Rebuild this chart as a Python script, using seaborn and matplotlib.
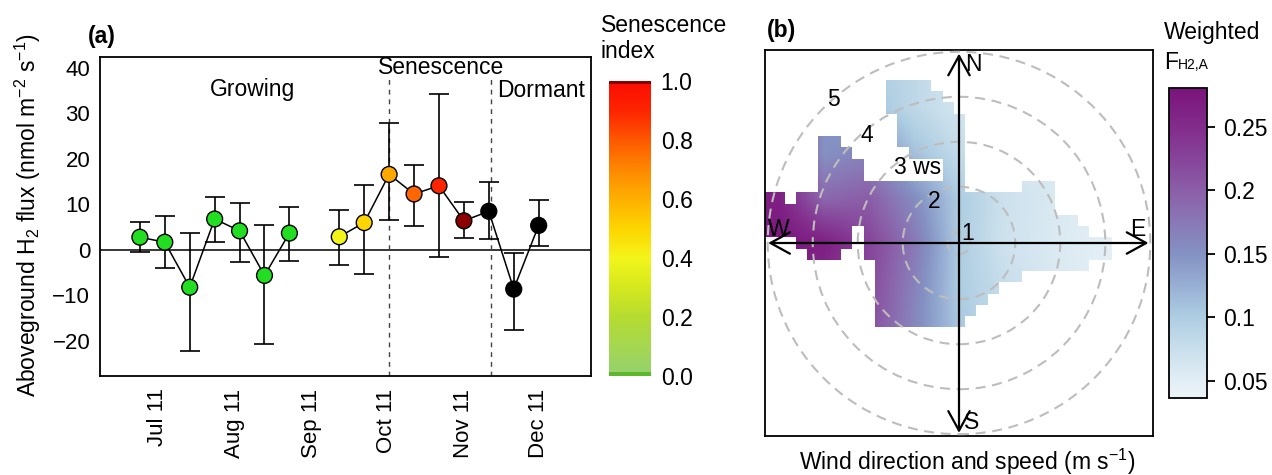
import numpy as np
import pandas as pd
import matplotlib
matplotlib.use("Agg")
import matplotlib.pyplot as plt
from matplotlib.colors import LinearSegmentedColormap, Normalize
from matplotlib.cm import ScalarMappable
from matplotlib.patches import Circle, FancyArrowPatch
import seaborn as sns

# ---------------- panel (a): aboveground H2 flux over the season ----------------
dates = ["2011-06-24", "2011-07-04", "2011-07-14", "2011-07-24", "2011-08-03",
         "2011-08-13", "2011-08-23", "2011-09-12", "2011-09-22", "2011-10-02",
         "2011-10-12", "2011-10-22", "2011-11-01", "2011-11-11", "2011-11-21",
         "2011-12-01"]
flux = [2.8, 1.7, -8.2, 6.8, 4.2, -5.6, 3.7, 2.9, 6.0, 16.6, 12.3, 14.1, 6.4, 8.5, -8.6, 5.4]
flux_hi = [6.1, 7.5, 3.7, 11.6, 10.4, 5.5, 9.4, 8.7, 14.2, 27.8, 18.6, 34.3, 10.5, 15.0, -0.7, 10.9]
flux_lo = [-0.5, -3.9, -22.2, 1.7, -2.7, -20.7, -2.4, -3.3, -5.3, 6.6, 5.3, -1.5, 2.6, 2.4, -17.6, 0.9]
phase = ["growing"] * 7 + ["senescence"] * 6 + ["dormant"] * 3
senescence_index = [0.0] * 7 + [0.4, 0.5, 0.62, 0.77, 0.9, 1.0] + [np.nan] * 3
segment = [0] * 7 + [1] * 9            # no sample between the two runs
phase_bounds = ["2011-10-02", "2011-11-12"]
phase_names = ["Growing", "Senescence", "Dormant"]
month_ticks = ["2011-07-01", "2011-08-01", "2011-09-01", "2011-10-01", "2011-11-01", "2011-12-01"]
month_labels = ["Jul 11", "Aug 11", "Sep 11", "Oct 11", "Nov 11", "Dec 11"]
sen_ticks = [0.0, 0.2, 0.4, 0.6, 0.8, 1.0]

# ---------------- panel (b): weighted flux by wind direction and speed ----------------
ring_speeds = [1, 2, 3, 4, 5]
ring_offset = 0.75
# weighted F_H2,A on a 1 m/s node grid, rows north -> south, columns west -> east
weighted_flux = [
    [0.260, 0.150, 0.100, 0.085, 0.065, 0.060, 0.055, 0.050, 0.045],
    [0.260, 0.150, 0.110, 0.085, 0.065, 0.060, 0.055, 0.050, 0.045],
    [0.260, 0.150, 0.165, 0.110, 0.080, 0.065, 0.055, 0.050, 0.045],
    [0.265, 0.190, 0.200, 0.155, 0.100, 0.072, 0.060, 0.050, 0.045],
    [0.275, 0.265, 0.225, 0.175, 0.100, 0.070, 0.058, 0.050, 0.045],
    [0.270, 0.250, 0.220, 0.165, 0.100, 0.078, 0.060, 0.050, 0.045],
    [0.270, 0.240, 0.215, 0.160, 0.105, 0.080, 0.060, 0.050, 0.045],
    [0.270, 0.240, 0.215, 0.160, 0.105, 0.080, 0.060, 0.050, 0.045],
    [0.270, 0.240, 0.215, 0.160, 0.105, 0.080, 0.060, 0.050, 0.045],
]
# bins that hold enough data (0.25 m/s cells, north -> south, west -> east)
coverage = [
    "",
    "",
    "",
    "...........####",
    "...........#####",
    "...........######",
    "............######",
    "............######",
    ".....##.....######",
    ".....###.....#####",
    ".....####.......##",
    ".....####.......##",
    ".....#############.....###",
    "##.#######################",
    "##########################",
    "############################",
    "########.####################",
    "...#####.######################",
    "....###..######################",
    "..........###################",
    "..........#############",
    "..........###########",
    "..........##########",
    "..........#########",
    "..........########",
    "", "", "", "", "", "", "", "", "", "",
]
flux_ticks = [0.05, 0.10, 0.15, 0.20, 0.25]
flux_tick_labels = ["0.05", "0.1", "0.15", "0.2", "0.25"]
flux_range = (0.0366, 0.2804)

# ---------------- style ----------------
sns.set_theme(style="white")
plt.rcParams["font.family"] = ["Liberation Sans", "DejaVu Sans"]
plt.rcParams["mathtext.fontset"] = "custom"
plt.rcParams["mathtext.rm"] = "Liberation Sans"
plt.rcParams["mathtext.it"] = "Liberation Sans:italic"
plt.rcParams["mathtext.bf"] = "Liberation Sans:bold"
plt.rcParams["axes.edgecolor"] = "black"
plt.rcParams["axes.linewidth"] = 1.3
plt.rcParams["text.color"] = "black"
plt.rcParams["xtick.color"] = "black"
plt.rcParams["ytick.color"] = "black"

W, H = 1272, 475
fig = plt.figure(figsize=(W / 100, H / 100), dpi=100)
fig.patch.set_facecolor("white")


def box(x0, y0, x1, y1):
    return [x0 / W, 1 - y1 / H, (x1 - x0) / W, (y1 - y0) / H]


# senescence colour ramp (green -> yellow -> orange -> red, with end bands)
sen_cmap = LinearSegmentedColormap.from_list("senescence", [
    (0.0, "#5cb82a"), (0.012, "#5cb82a"), (0.013, "#96d26c"), (0.2, "#b6dc30"),
    (0.3, "#d5e81e"), (0.4, "#f3f51a"), (0.5, "#fdd500"), (0.6, "#fdb000"),
    (0.7, "#fd8800"), (0.8, "#fd5800"), (0.9, "#fd2400"), (0.99, "#fc0e00"),
    (0.992, "#8b0000"), (1.0, "#8b0000")], N=1024)

df = pd.DataFrame({
    "date": pd.to_datetime(dates), "flux": flux, "hi": flux_hi, "lo": flux_lo,
    "phase": phase, "sen": senescence_index, "segment": segment,
})
df["pid"] = [f"p{i}" for i in range(len(df))]


def point_colour(row):
    if row.phase == "growing":
        return "#22dd22"
    if row.phase == "dormant":
        return "black"
    return sen_cmap(row.sen)


palette = {row.pid: point_colour(row) for row in df.itertuples()}

ax = fig.add_axes(box(100, 57, 591, 376))
ylo, yhi = -27.7, 42.4
ax.axhline(0, color="black", lw=1.1, zorder=1)
ax.vlines(pd.to_datetime(phase_bounds), ylo, 38, colors="#444444", lw=1.0,
          linestyles=(0, (3.5, 3.5)), zorder=1)
ax.errorbar(df["date"], df["flux"], yerr=[df["flux"] - df["lo"], df["hi"] - df["flux"]],
            fmt="none", ecolor="black", elinewidth=1.2, capsize=7.5, capthick=1.2, zorder=2)
sns.lineplot(data=df, x="date", y="flux", units="segment", estimator=None, sort=False,
             color="black", lw=1.1, ax=ax, zorder=3)
sns.scatterplot(data=df, x="date", y="flux", hue="pid", palette=palette, legend=False,
                s=130, edgecolor="black", linewidth=1.0, ax=ax, zorder=4)

ax.set_xlim(pd.Timestamp("2011-06-08"), pd.Timestamp("2011-12-22"))
ax.set_ylim(ylo, yhi)
ax.set_xticks(pd.to_datetime(month_ticks))
ax.set_xticklabels(month_labels, rotation=90)
ax.set_yticks([-20, -10, 0, 10, 20, 30, 40])
ax.set_yticklabels(["\u221220", "\u221210", "0", "10", "20", "30", "40"])
ax.tick_params(axis="both", direction="in", length=5, width=1.3, labelsize=16, colors="black")
ax.tick_params(axis="x", pad=9)
ax.tick_params(axis="y", pad=7)
ax.set_xlabel("")
ax.set_ylabel("")
for s in ax.spines.values():
    s.set_color("black")
    s.set_linewidth(1.3)

text_pos = [("2011-08-08", 35.2), ("2011-10-23", 40.2), ("2011-12-02", 35.0)]
for name, (d, yv) in zip(phase_names, text_pos):
    ax.text(pd.Timestamp(d), yv, name, ha="center", va="center", fontsize=16.5,
            color="black", zorder=5)

fig.text(28 / W, 1 - 215 / H, "Aboveground H$_2$ flux (nmol m$^{-2}$ s$^{-1}$)",
         rotation=90, ha="center", va="center", fontsize=16.5)
fig.text(88 / W, 1 - 37 / H, "(a)", fontweight="bold", ha="left", va="center", fontsize=16.5)

# colour bar for the senescence index
cax_a = fig.add_axes(box(609, 81, 651, 376))
cb_a = fig.colorbar(ScalarMappable(norm=Normalize(0, 1), cmap=sen_cmap), cax=cax_a, ticks=sen_ticks)
cb_a.outline.set_visible(False)
cb_a.set_ticklabels([f"{t:.1f}" for t in sen_ticks])
cax_a.tick_params(length=0, labelsize=16.5, pad=7, colors="black")
fig.text(601 / W, 1 - 25 / H, "Senescence", ha="left", va="center", fontsize=16.5)
fig.text(601 / W, 1 - 52 / H, "index", ha="left", va="center", fontsize=16.5)

# ---------------- panel (b) ----------------
span = flux_range[1] - flux_range[0]
flux_cmap = LinearSegmentedColormap.from_list("weighted", [
    (0.0, "#ecf4f8"), ((0.05 - flux_range[0]) / span, "#e2eef5"),
    ((0.075 - flux_range[0]) / span, "#c9dfec"), ((0.10 - flux_range[0]) / span, "#aecde2"),
    ((0.125 - flux_range[0]) / span, "#98afd4"), ((0.15 - flux_range[0]) / span, "#8492c3"),
    ((0.175 - flux_range[0]) / span, "#8978b6"), ((0.20 - flux_range[0]) / span, "#8b5ea8"),
    ((0.225 - flux_range[0]) / span, "#86449a"), ((0.25 - flux_range[0]) / span, "#822c8b"),
    (1.0, "#7b137c")], N=512)
flux_norm = Normalize(*flux_range)

axb = fig.add_axes(box(765, 50, 1153, 436))
axb.imshow(np.array(weighted_flux), extent=[-4.5, 4.5, -4.5, 4.5], origin="upper",
           cmap=flux_cmap, norm=flux_norm, interpolation="bilinear", zorder=1)
n = len(coverage)
covered = np.array([[c == "#" for c in row.ljust(n, ".")] for row in coverage])
blank = np.zeros((n, n, 4))
blank[~covered] = (1, 1, 1, 1)
half = n * 0.25 / 2
axb.imshow(blank, extent=[-half, half, -half, half], origin="upper",
           interpolation="nearest", zorder=2)

for k in ring_speeds:
    axb.add_patch(Circle((0, 0), k - ring_offset, fill=False, ec="#bdbdbd", lw=1.5,
                         ls=(0, (4.8, 3.2)), zorder=3))

ring_label_pos = [(0.20, 0.22), (-0.56, 0.93), (-0.91, 1.67), (-2.04, 2.40), (-2.78, 3.20)]
ring_label_txt = [str(k) if k != 3 else "3 ws" for k in ring_speeds]
for (u, v), t in zip(ring_label_pos, ring_label_txt):
    axb.text(u, v, t, ha="center", va="center", fontsize=16.5, color="black", zorder=5)

arrow_style = "<->,head_length=14,head_width=7.7"
for pa, pb in [((0, -4.22), (0, 4.21)), ((-4.24, 0), (4.21, 0))]:
    axb.add_patch(FancyArrowPatch(pa, pb, arrowstyle=arrow_style, mutation_scale=1,
                                  shrinkA=0, shrinkB=0, lw=1.6, color="black", zorder=4))
for lab, (u, v) in zip(["N", "S", "W", "E"], [(0.31, 3.96), (0.27, -4.0), (-4.0, 0.29), (3.98, 0.31)]):
    axb.text(u, v, lab, ha="center", va="center", fontsize=16.5, color="black", zorder=5)

axb.set_xlim(-4.31, 4.31)
axb.set_ylim(-4.29, 4.29)
axb.set_aspect("auto")
axb.set_xticks([])
axb.set_yticks([])
for s in axb.spines.values():
    s.set_color("black")
    s.set_linewidth(1.3)

fig.text(967 / W, 1 - 462 / H, "Wind direction and speed (m s$^{-1}$)", ha="center",
         va="center", fontsize=16.5)
fig.text(767 / W, 1 - 30 / H, "(b)", fontweight="bold", ha="left", va="center", fontsize=16.5)

cax_b = fig.add_axes(box(1169, 88, 1207, 398))
cb_b = fig.colorbar(ScalarMappable(norm=flux_norm, cmap=flux_cmap), cax=cax_b, ticks=flux_ticks)
cb_b.set_ticklabels(flux_tick_labels)
cb_b.outline.set_edgecolor("black")
cb_b.outline.set_linewidth(1.3)
cax_b.tick_params(length=5.5, width=1.3, labelsize=16.5, pad=6, colors="black")
fig.text(1164 / W, 1 - 33 / H, "Weighted", ha="left", va="center", fontsize=16.5)
fig.text(1164 / W, 1 - 69 / H, "F", ha="left", va="baseline", fontsize=16.5)
fig.text(1178 / W, 1 - 69 / H, "H2,A", ha="left", va="baseline", fontsize=10)

fig.savefig("out.png", dpi=100, facecolor="white")
